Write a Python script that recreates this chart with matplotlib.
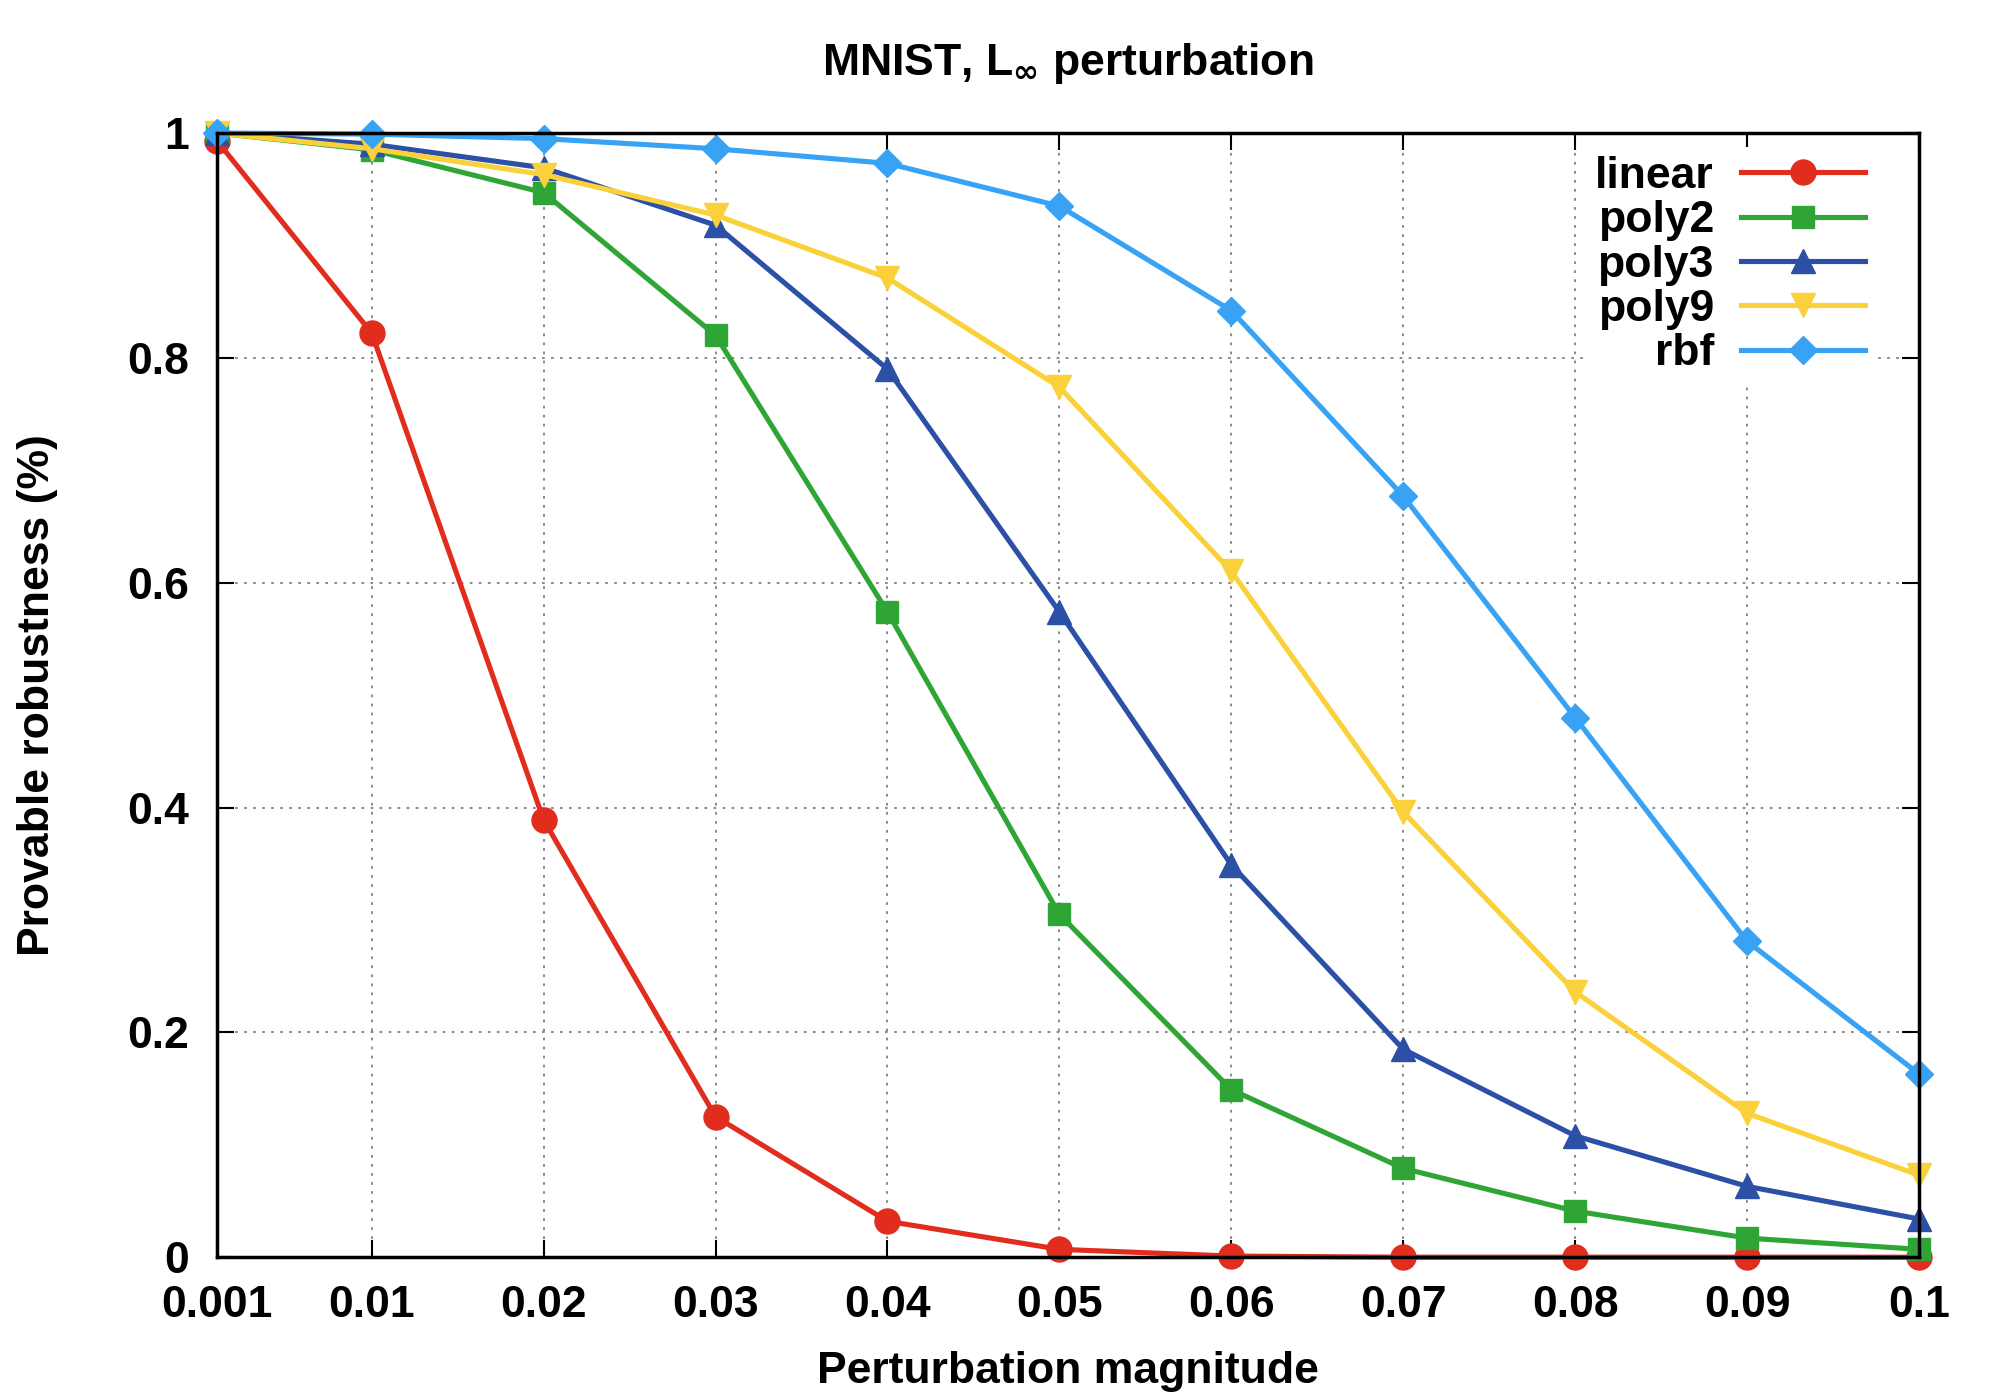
import numpy as np
import matplotlib
matplotlib.use("Agg")
import matplotlib.pyplot as plt

# perturbation magnitudes (x) and provable robustness per kernel
eps = [0.001, 0.01, 0.02, 0.03, 0.04, 0.05, 0.06, 0.07, 0.08, 0.09, 0.1]
xTickLabels = ["0.001", "0.01", "0.02", "0.03", "0.04", "0.05", "0.06", "0.07", "0.08", "0.09", "0.1"]
yTicks = [0, 0.2, 0.4, 0.6, 0.8, 1.0]
yTickLabels = ["0", "0.2", "0.4", "0.6", "0.8", "1"]

linear = [0.993, 0.822, 0.389, 0.125, 0.032, 0.007, 0.001, 0.0, 0.0, 0.0, 0.0]
poly2 = [1.0, 0.985, 0.947, 0.820, 0.574, 0.305, 0.149, 0.079, 0.041, 0.017, 0.007]
poly3 = [1.0, 0.990, 0.969, 0.918, 0.790, 0.574, 0.349, 0.185, 0.108, 0.063, 0.034]
poly9 = [1.0, 0.986, 0.963, 0.927, 0.871, 0.774, 0.610, 0.396, 0.236, 0.128, 0.073]
rbf = [1.0, 0.999, 0.995, 0.986, 0.973, 0.935, 0.842, 0.677, 0.480, 0.281, 0.163]

plt.rcParams['font.family'] = ['Liberation Sans', 'DejaVu Sans']
plt.rcParams['font.weight'] = 'bold'

fig = plt.figure(figsize=(20, 14), dpi=100)
ax = fig.add_axes([0.1085, 0.102, 0.8510, 0.803])

series = [
    ("linear", linear, "#e12d1e", "o", 18),
    ("poly2", poly2, "#2fa536", "s", 16),
    ("poly3", poly3, "#2c50a6", "^", 17),
    ("poly9", poly9, "#fbd13b", "v", 17),
    ("rbf", rbf, "#38a2f5", "D", 14),
]
for name, vals, col, mk, ms in series:
    ax.plot(eps, vals, color=col, marker=mk, markersize=ms, linewidth=3.7,
            label=name, clip_on=False)

ax.set_xlim(0.001, 0.1)
ax.set_ylim(0, 1)
ax.set_xticks(eps)
ax.set_xticklabels(xTickLabels)
ax.set_yticks(yTicks)
ax.set_yticklabels(yTickLabels)
ax.tick_params(direction='in', length=12, width=1.5, labelsize=32, pad=20,
               top=True, right=True)
for s in ax.spines.values():
    s.set_linewidth(2.5)

ax.grid(True, color='#808080', linestyle=(0, (1.5, 3.5)), linewidth=1.3)
ax.set_axisbelow(True)

ax.set_xlabel("Perturbation magnitude", fontsize=32, fontweight='bold', labelpad=18)
ax.set_ylabel("Provable robustness (%)", fontsize=32, fontweight='bold', labelpad=50)
ax.set_title(r"MNIST, L$_{\mathbf{\infty}}$ perturbation", fontsize=32,
             fontweight='bold', pad=42)

leg = ax.legend(loc='upper right', bbox_to_anchor=(0.9735, 0.9875),
                markerfirst=False, fontsize=32, frameon=True,
                handlelength=2.8, handletextpad=0.6, labelspacing=0.075,
                borderaxespad=0.0, borderpad=0.2)
leg.get_frame().set_facecolor('white')
leg.get_frame().set_edgecolor('none')
leg.get_frame().set_alpha(1.0)
# right-align the legend rows like gnuplot does
for col in leg._legend_handle_box.get_children():
    col.align = "right"

fig.savefig("out.png", dpi=100)
